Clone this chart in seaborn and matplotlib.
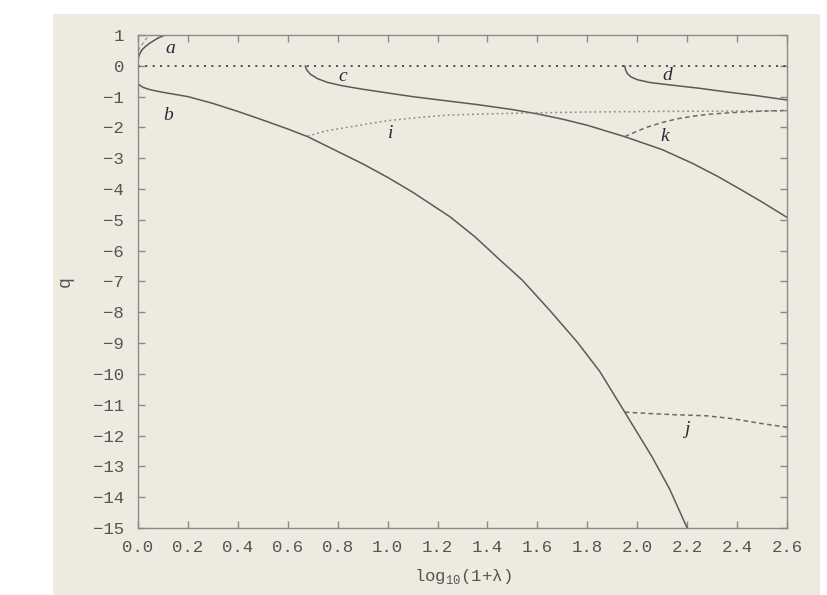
import matplotlib
matplotlib.use("Agg")
import matplotlib.pyplot as plt
import seaborn as sns
import numpy as np
import pandas as pd
from matplotlib.patches import Rectangle

# ---- data ----
zero_x = [0.0, 2.6]
zero_q = [0.0, 0.0]

a_x = [0.0, 0.005, 0.015, 0.03, 0.048, 0.08, 0.108]
a_q = [0.2, 0.35, 0.51, 0.63, 0.74, 0.9, 1.0]

a2_x = [0.0, 0.015, 0.03, 0.045]
a2_q = [0.5, 0.68, 0.85, 1.0]

b_x = [0.0, 0.02, 0.05, 0.1, 0.2, 0.3, 0.4, 0.5, 0.6, 0.68, 0.8, 0.9, 1.0, 1.1,
       1.25, 1.35, 1.45, 1.54, 1.65, 1.76, 1.85, 1.95, 2.06, 2.13, 2.2]
b_q = [-0.59, -0.7, -0.78, -0.86, -1.0, -1.22, -1.48, -1.76, -2.05, -2.3, -2.78, -3.18,
       -3.62, -4.1, -4.9, -5.55, -6.3, -6.96, -7.94, -8.97, -9.92, -11.24, -12.7, -13.74, -15.0]

c_x = [0.67, 0.675, 0.69, 0.72, 0.76, 0.82, 0.9, 1.0, 1.1, 1.2, 1.37, 1.5, 1.6, 1.7,
       1.8, 1.95, 2.1, 2.22, 2.32, 2.42, 2.5, 2.6]
c_q = [0.0, -0.12, -0.27, -0.42, -0.54, -0.65, -0.76, -0.88, -1.0, -1.1, -1.27, -1.42,
       -1.56, -1.73, -1.93, -2.3, -2.72, -3.16, -3.58, -4.04, -4.42, -4.92]

d_x = [1.95, 1.953, 1.96, 1.975, 2.0, 2.05, 2.13, 2.25, 2.36, 2.48, 2.6]
d_q = [0.0, -0.12, -0.25, -0.36, -0.45, -0.54, -0.62, -0.73, -0.85, -0.97, -1.11]

i_x = [0.68, 0.75, 0.85, 1.0, 1.12, 1.24, 1.4, 1.56, 1.8, 2.1, 2.6]
i_q = [-2.28, -2.12, -1.98, -1.78, -1.68, -1.6, -1.56, -1.53, -1.5, -1.48, -1.46]

k_x = [1.95, 2.0, 2.04, 2.1, 2.16, 2.22, 2.29, 2.36, 2.42, 2.5, 2.6]
k_q = [-2.3, -2.12, -1.99, -1.84, -1.72, -1.64, -1.57, -1.53, -1.5, -1.47, -1.45]

j_x = [1.95, 2.04, 2.14, 2.28, 2.38, 2.49, 2.6]
j_q = [-11.24, -11.28, -11.32, -11.36, -11.45, -11.6, -11.73]

labels = ["a", "b", "c", "d", "i", "k", "j"]
label_x = [0.13, 0.12, 0.82, 2.12, 1.01, 2.11, 2.2]
label_q = [0.55, -1.6, -0.35, -0.3, -2.2, -2.3, -11.8]

x_ticks = [0.0, 0.2, 0.4, 0.6, 0.8, 1.0, 1.2, 1.4, 1.6, 1.8, 2.0, 2.2, 2.4, 2.6]
y_ticks = list(range(1, -16, -1))

# ---- style ----
sns.set_theme(style="white")
plt.rcParams["font.family"] = ["Liberation Mono", "DejaVu Sans"]
plt.rcParams["mathtext.fontset"] = "custom"
plt.rcParams["mathtext.rm"] = "Liberation Mono"

BG = "#EDEAE0"
GRID = "#8a8a8a"
TXT = "#555555"

fig = plt.figure(figsize=(8.28, 5.95), dpi=100, facecolor="white")
fig.patches.append(Rectangle((53 / 828, 0), (820 - 53) / 828, (595 - 14) / 595,
                             transform=fig.transFigure, facecolor=BG,
                             edgecolor="none", zorder=-10))
ax = fig.add_axes([138 / 828, 1 - 528 / 595, (787 - 138) / 828, (528 - 35) / 595])
ax.set_facecolor(BG)

def draw(x, y, color, ls, lw=1.0):
    df = pd.DataFrame({"x": x, "y": y})
    sns.lineplot(data=df, x="x", y="y", ax=ax, color=color, linestyle=ls,
                 linewidth=lw, estimator=None, sort=False)

draw(zero_x, zero_q, "#333333", (0, (1.2, 3.2)), 1.2)
draw(a_x, a_q, "#555555", "-", 1.1)
draw(a2_x, a2_q, "#999999", (0, (2.5, 2)), 1.0)
draw(b_x, b_q, "#5a5a5a", "-", 1.1)
draw(c_x, c_q, "#5a5a5a", "-", 1.1)
draw(d_x, d_q, "#5a5a5a", "-", 1.1)
draw(i_x, i_q, "#8a8a8a", (0, (1.2, 2.0)), 1.1)
draw(k_x, k_q, "#6a6a6a", (0, (3, 2.2)), 1.1)
draw(j_x, j_q, "#6a6a6a", (0, (3, 2.2)), 1.1)

for t, lx, ly in zip(labels, label_x, label_q):
    ax.text(lx, ly, t, family="Liberation Serif", style="italic", fontsize=14,
            color="#2a2a3a", ha="center", va="center")

ax.set_xlim(0, 2.6)
ax.set_ylim(-15, 1)
ax.set_xticks(x_ticks)
ax.set_xticklabels([f"{v:.1f}" for v in x_ticks])
ax.set_yticks(y_ticks)
ax.set_yticklabels([("\u2212" + str(-v)) if v < 0 else str(v) for v in y_ticks])

for s in ax.spines.values():
    s.set_color(GRID)
    s.set_linewidth(1.0)
    s.set_visible(True)

ax.tick_params(axis="both", which="both", direction="in", length=5, width=1,
               color=GRID, labelcolor=TXT, labelsize=12.5,
               top=True, right=True, bottom=True, left=True, pad=10)
ax.tick_params(axis="x", pad=9)

ax.set_xlabel(r"log$_{\mathregular{10}}$(1+λ)", fontsize=12.5, color=TXT, labelpad=8)
ax.set_ylabel("q", fontsize=13, color=TXT, labelpad=14)
ax.grid(False)

fig.savefig("out.png", dpi=100, facecolor="white")
